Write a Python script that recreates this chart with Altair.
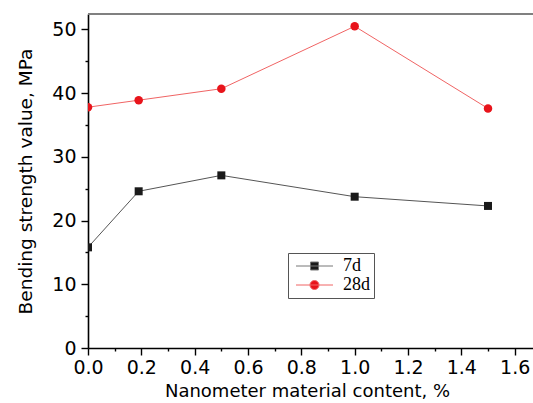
import altair as alt
import pandas as pd

# ---- data ----
content = [0.0, 0.19, 0.5, 1.0, 1.5]
strength_7d = [15.8, 24.6, 27.1, 23.75, 22.3]
strength_28d = [37.8, 38.9, 40.7, 50.5, 37.6]
series_names = ["7d", "28d"]
x_ticks = [round(i * 0.1, 1) for i in range(17)]
y_ticks = [i * 5 for i in range(11)]

rows = []
for x, v in zip(content, strength_7d):
    rows.append({"x": x, "y": v, "series": "7d"})
for x, v in zip(content, strength_28d):
    rows.append({"x": x, "y": v, "series": "28d"})
df = pd.DataFrame(rows)

W, H = 445, 334
FONT = "DejaVu Sans"

x_scale = alt.Scale(domain=[0, 1.6687], nice=False, zero=False)
y_scale = alt.Scale(domain=[0, 52.43], nice=False, zero=False)

x_axis = alt.Axis(
    values=x_ticks,
    format=".1f",
    labelExpr="round(datum.value*10) % 2 == 0 ? datum.label : ''",
    tickSize={"condition": {"test": "round(datum.value*10) % 2 == 0", "value": 7}, "value": 3},
    labelFont=FONT, labelFontSize=19, labelColor="black", labelPadding=3,
    labelOverlap=False, labelFlush=False,
    domainColor="black", domainWidth=1.6, tickColor="black", tickWidth=1.4,
    grid=False,
    title="Nanometer material content, %",
    titleFont=FONT, titleFontSize=18, titleFontWeight="normal", titleColor="black",
    titleBaseline="alphabetic", titleX=219, titleY=48, titleAnchor="middle",
    titleAlign="center",
)
y_axis = alt.Axis(
    values=y_ticks,
    labelExpr="datum.value % 10 == 0 ? datum.label : ''",
    tickSize={"condition": {"test": "datum.value % 10 == 0", "value": 7}, "value": 3},
    labelFont=FONT, labelFontSize=19, labelColor="black", labelPadding=5,
    labelOverlap=False, labelFlush=False,
    domainColor="black", domainWidth=1.6, tickColor="black", tickWidth=1.4,
    grid=False,
    title="Bending strength value, MPa",
    titleFont=FONT, titleFontSize=18.5, titleFontWeight="normal", titleColor="black",
    titleBaseline="alphabetic", titleX=-57, titleY=167, titleAngle=-90,
    titleAlign="center",
)

base = alt.Chart(df)
X = alt.X("x:Q", scale=x_scale, axis=x_axis)
Y = alt.Y("y:Q", scale=y_scale, axis=y_axis)

line7 = base.transform_filter("datum.series == '7d'").mark_line(
    color="#555555", strokeWidth=1, clip=True).encode(x=X, y=Y)
line28 = base.transform_filter("datum.series == '28d'").mark_line(
    color="#f06464", strokeWidth=1, clip=True).encode(x=X, y=Y)
pts7 = base.transform_filter("datum.series == '7d'").mark_square(
    color="#1a1a1a", size=64, opacity=1, clip=True).encode(x=X, y=Y)
pts28 = base.transform_filter("datum.series == '28d'").mark_circle(
    color="#e8141b", size=72, opacity=1, clip=True).encode(x=X, y=Y)

sq_path = "M-1,0H6.4M1.9,-0.8H3.5V0.8H1.9Z"
ci_path = "M-1,0H6.4M3.6,0A0.9,0.9,0,1,1,1.8,0A0.9,0.9,0,1,1,3.6,0Z"

legend = alt.Legend(
    orient="none", legendX=200, legendY=239, title=None,
    symbolSize=100, symbolStrokeWidth=1, symbolOpacity=1,
    labelFont="Liberation Serif", labelFontSize=18, labelColor="black",
    labelOffset=33, padding=4, rowPadding=1,
    strokeColor="#555555", fillColor="white", cornerRadius=0,
)
legend_layer = base.mark_point(filled=True, size=0, clip=True).encode(
    x=X, y=Y,
    fill=alt.Fill("series:N", scale=alt.Scale(domain=series_names, range=["#1a1a1a", "#e8141b"]), legend=legend),
    stroke=alt.Stroke("series:N", scale=alt.Scale(domain=series_names, range=["#777777", "#f06464"]), legend=legend),
    shape=alt.Shape("series:N", scale=alt.Scale(domain=series_names, range=[sq_path, ci_path]), legend=legend),
)

top_border = alt.Chart(df).mark_rule(color="#808080", strokeWidth=1.5).encode(
    x=alt.value(0), x2=alt.value(W), y=alt.value(0))

chart = alt.layer(line7, line28, pts7, pts28, legend_layer, top_border).properties(
    width=W, height=H,
    autosize=alt.AutoSizeParams(type="none"),
    padding={"left": 88, "top": 14, "right": 0, "bottom": 55},
    background="white",
).configure_view(stroke=None)

chart.save("out.html", embed_options={"renderer": "svg", "actions": False})
